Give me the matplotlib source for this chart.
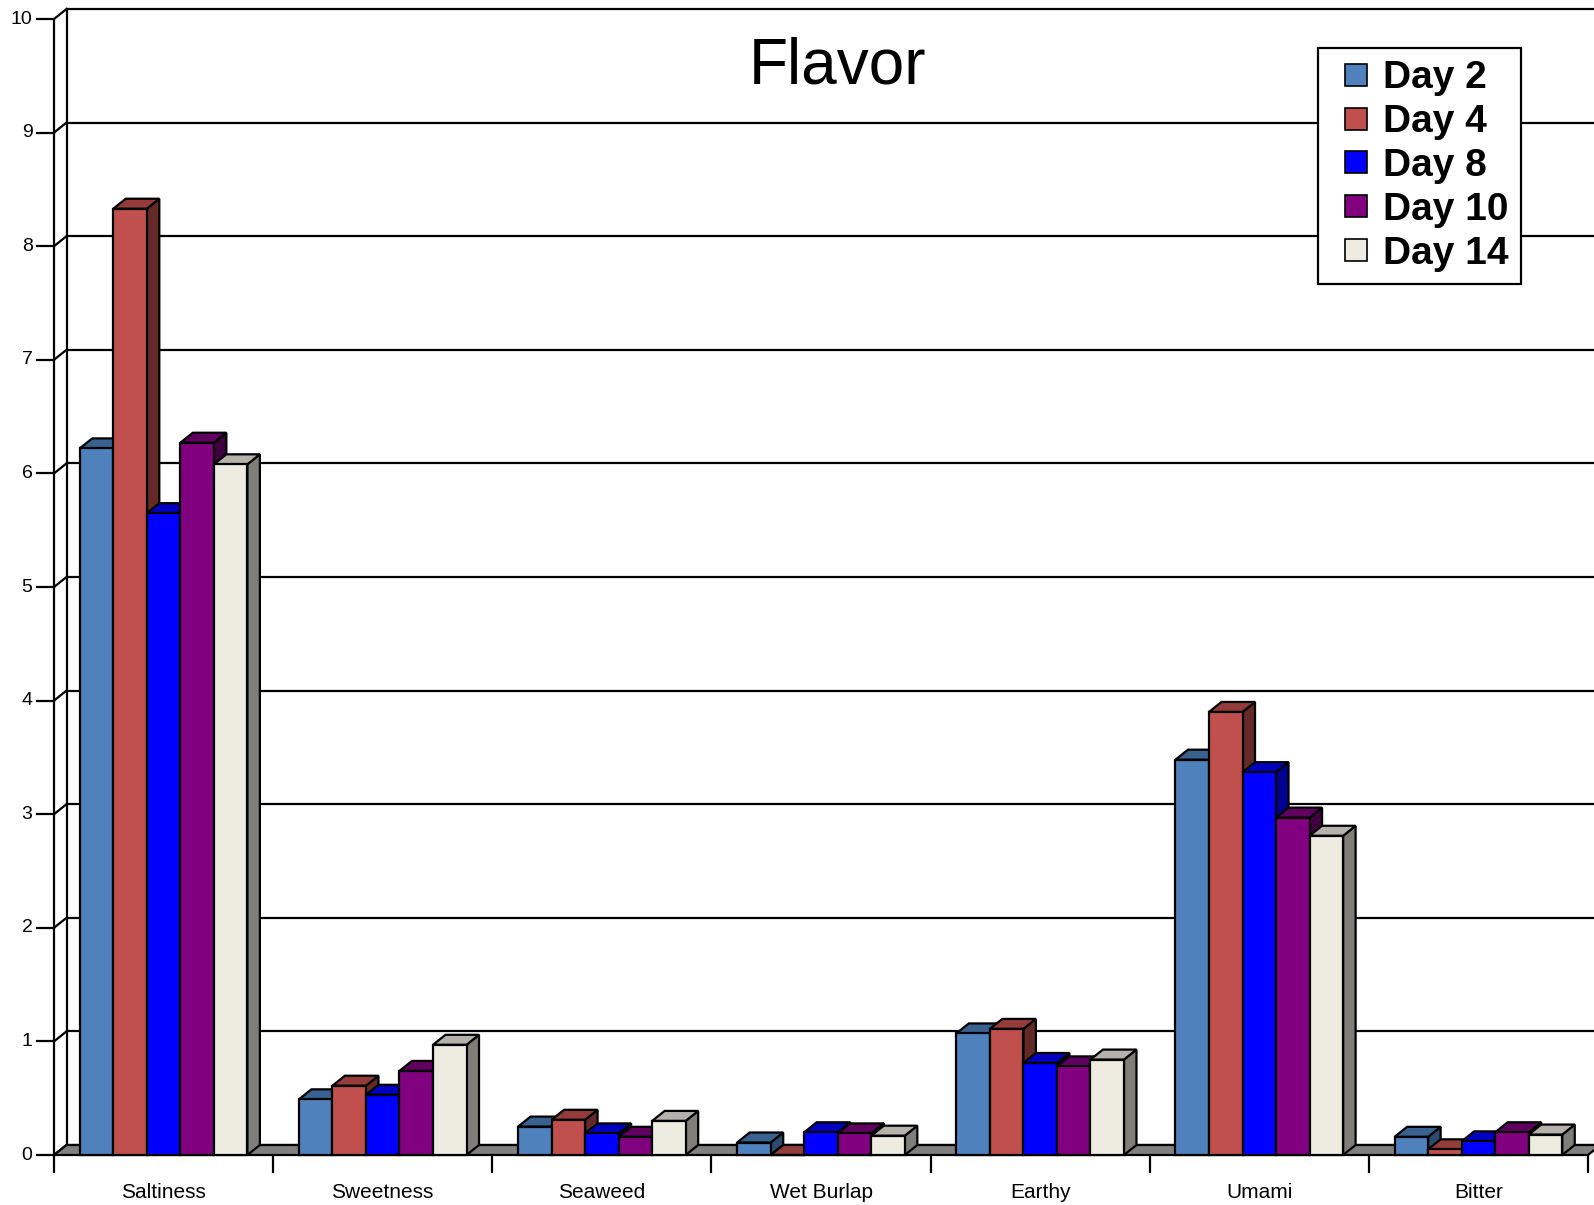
import matplotlib
matplotlib.use('agg')
import matplotlib.pyplot as plt
from matplotlib.patches import Polygon, Rectangle
from matplotlib.lines import Line2D

plt.rcParams['font.family'] = ['Liberation Sans', 'DejaVu Sans']

categories = ['Saltiness', 'Sweetness', 'Seaweed', 'Wet Burlap', 'Earthy', 'Umami', 'Bitter']
series_names = ['Day 2', 'Day 4', 'Day 8', 'Day 10', 'Day 14']
day2 = [6.22, 0.49, 0.25, 0.11, 1.07, 3.48, 0.16]
day4 = [8.33, 0.61, 0.31, 0.00, 1.11, 3.90, 0.05]
day8 = [5.65, 0.53, 0.19, 0.20, 0.81, 3.37, 0.12]
day10 = [6.27, 0.74, 0.16, 0.19, 0.78, 2.97, 0.20]
day14 = [6.08, 0.97, 0.30, 0.17, 0.84, 2.81, 0.18]
yticks = list(range(0, 11))

# face colours: front, top, side
front_cols = ['#4F81BD', '#C0504D', '#0000FF', '#800080', '#EEECE1']
top_cols = ['#3A6291', '#943C3A', '#0000C0', '#600060', '#B4B2AA']
side_cols = ['#2C4A6E', '#632A28', '#000090', '#400040', '#7F7E78']

W, H = 1594, 1205
fig = plt.figure(figsize=(W / 100, H / 100), dpi=100)
x_left, x_right = 54, 1588
y_bot, y_top = 1155, 19
ax = fig.add_axes([x_left / W, 1 - y_bot / H, (x_right - x_left) / W, (y_bot - y_top) / H])
ax.set_xlim(0, 7)
ax.set_ylim(0, 10)
ax.axis('off')

px_x = (x_right - x_left) / 7.0
px_y = (y_bot - y_top) / 10.0
dx = 12.5 / px_x   # depth offset
dy = 10.0 / px_y
lw = 1.6

# back wall gridlines and left wall
for v in yticks:
    ax.plot([dx, 7.5], [v + dy, v + dy], color='black', lw=lw, zorder=1, clip_on=False)
    ax.plot([0, dx], [v, v + dy], color='black', lw=lw, zorder=1, clip_on=False)
    ax.plot([-0.078, 0], [v, v], color='black', lw=lw, zorder=1, clip_on=False)
    ax.text(-0.098, v, str(v), ha='right', va='center', fontsize=14, clip_on=False)
ax.plot([dx, dx], [dy, 10 + dy], color='black', lw=lw, zorder=1, clip_on=False)
ax.plot([0, 0], [0, 10], color='black', lw=lw, zorder=1, clip_on=False)

# floor
floor = Polygon([(0, 0), (7, 0), (7 + dx, dy), (dx, dy)], closed=True,
                facecolor='#808080', edgecolor='black', lw=lw, zorder=2, clip_on=False)
ax.add_patch(floor)

# bars
data = [day2, day4, day8, day10, day14]
bw = 0.153
pad = (1 - 5 * bw) / 2
z = 3
for i in range(len(categories)):
    for j, vals in enumerate(data):
        h = vals[i]
        x0 = i + pad + j * bw
        side = Polygon([(x0 + bw, 0), (x0 + bw + dx, dy), (x0 + bw + dx, h + dy), (x0 + bw, h)],
                       closed=True, facecolor=side_cols[j], edgecolor='black', lw=lw,
                       zorder=z, clip_on=False)
        top = Polygon([(x0, h), (x0 + bw, h), (x0 + bw + dx, h + dy), (x0 + dx, h + dy)],
                      closed=True, facecolor=top_cols[j], edgecolor='black', lw=lw,
                      zorder=z, clip_on=False)
        front = Rectangle((x0, 0), bw, h, facecolor=front_cols[j], edgecolor='black',
                          lw=lw, zorder=z, clip_on=False)
        ax.add_patch(side)
        ax.add_patch(top)
        ax.add_patch(front)
        z += 1

# category axis
tick_len = 17 / px_y
for i in range(len(categories) + 1):
    ax.plot([i, i], [0, -tick_len], color='black', lw=lw, zorder=z, clip_on=False)
for i, name in enumerate(categories):
    ax.text(i + 0.5, -37 / px_y, name, ha='center', va='center', fontsize=15, clip_on=False)

fig.text(838 / W, 1 - 66 / H, 'Flavor', ha='center', va='center', fontsize=46)

handles = [Line2D([], [], linestyle='none', marker='s', markersize=15.5,
                  markerfacecolor=c, markeredgecolor='black', markeredgewidth=1.2)
           for c in front_cols]
leg = fig.legend(handles, series_names, loc='upper left', numpoints=1,
                 bbox_to_anchor=(1318 / W, 1 - 48 / H), frameon=True, fancybox=False,
                 framealpha=1, edgecolor='black', prop={'weight': 'bold', 'size': 28},
                 handlelength=1.32, handletextpad=0.02,
                 labelspacing=0.2, borderpad=0.32, borderaxespad=0)
leg.get_frame().set_linewidth(lw)
leg.set_zorder(100)

fig.savefig('out.png', dpi=100, facecolor='white')
